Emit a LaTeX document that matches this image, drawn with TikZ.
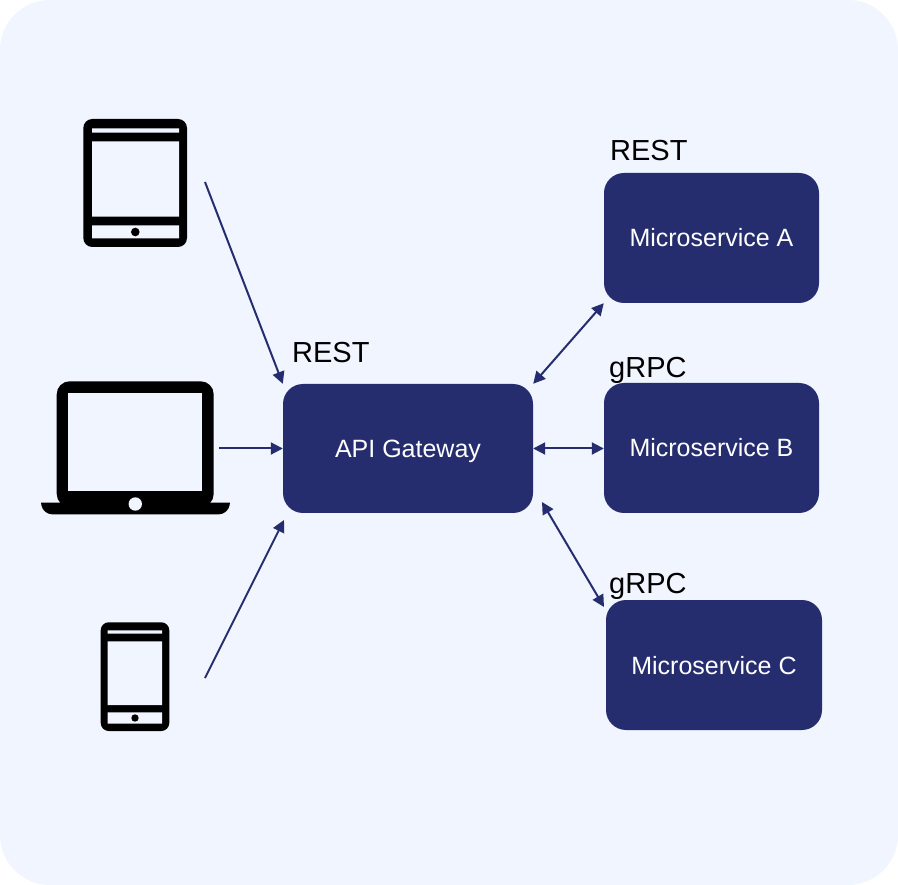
\documentclass[tikz,border=0pt]{standalone}
\usepackage{fontspec}
\setmainfont{Liberation Sans}
\usetikzlibrary{arrows.meta}
\definecolor{navy}{HTML}{252D6E}
\definecolor{pale}{HTML}{F0F5FF}
\tikzset{
	service/.style={fill=navy, text=white, rounded corners=20pt, inner sep=0pt, text height=18pt, text depth=0pt, font=\fontsize{25}{30}\selectfont},
	proto/.style={anchor=base west, inner sep=0pt, font=\fontsize{29}{34}\selectfont},
	oneway/.style={navy, line width=2pt, -{Triangle[length=12pt,width=12pt]}},
	twoway/.style={navy, line width=2pt, {Triangle[length=12pt,width=12pt]}-{Triangle[length=12pt,width=12pt]}},
}
\begin{document}
\begin{tikzpicture}[x=1pt, y=-1pt]
		\fill[pale, rounded corners=50pt] (0,0) rectangle (898,885);
		\useasboundingbox (0,0) rectangle (898,885);
		% tablet
		\fill[rounded corners=9pt] (83.3,119) rectangle (187,247);
		\fill[pale] (92,128.3) rectangle (179,132.7) (92,141.3) rectangle (179,216.7) (92,225.3) rectangle (179,238.3);
		\fill (135.3,232) circle (4.3pt);
		% laptop
		\fill[rounded corners=13pt] (56.7,381.3) rectangle (213.7,507);
		\fill[pale] (68.3,393.3) rectangle (202.3,491);
		\fill (41,502.7) -- (230,502.7) [rounded corners=9pt] -- (228,514.3) -- (43,514.3) [sharp corners] -- cycle;
		\fill[pale] (135.3,504) circle (6.7pt);
		% phone
		\fill[rounded corners=8pt] (100.7,622.3) rectangle (169.3,731);
		\fill[pale] (107.7,630.3) rectangle (162,633.7) (107.7,641.3) rectangle (162,705) (107.7,712.3) rectangle (162,723.7);
		\fill (135,718) circle (3.7pt);

		\node[service, minimum width=250pt, minimum height=129pt] (api) at (408,448.5) {API Gateway};
		\foreach \lname/\lx/\ly/\lw/\ltext in {a/711.5/238/215/A,b/711.5/448/215/B,c/714/665/216/C} {
			\node[service, minimum width=\lw pt, minimum height=130pt] (ms-\lname) at (\lx,\ly) {Microservice \ltext};
		}
		\node[proto] (rest-api) at (292,362.7) {REST};
		\node[proto] (rest-a) at (610,160.7) {REST};
		\node[proto] (grpc-b) at (609,377.7) {gRPC};
		\node[proto] (grpc-c) at (609,594) {gRPC};

		\coordinate (from-tablet) at (205,182);
		\coordinate (from-laptop) at (219,448.5);
		\coordinate (from-phone) at (205,678);
		\coordinate (api-in) at (284,520);
		\coordinate (api-out) at (542,502);
		\coordinate (c-in) at (604,607);
		\draw[oneway] (from-tablet) -- (api.north west);
		\draw[oneway] (from-laptop) -- (api.west);
		\draw[oneway] (from-phone) -- (api-in);
		\draw[twoway] (api.north east) -- (ms-a.south west);
		\draw[twoway] (api.east) -- (api.east -| ms-b.west);
		\draw[twoway] (api-out) -- (c-in);
\end{tikzpicture}
\end{document}
